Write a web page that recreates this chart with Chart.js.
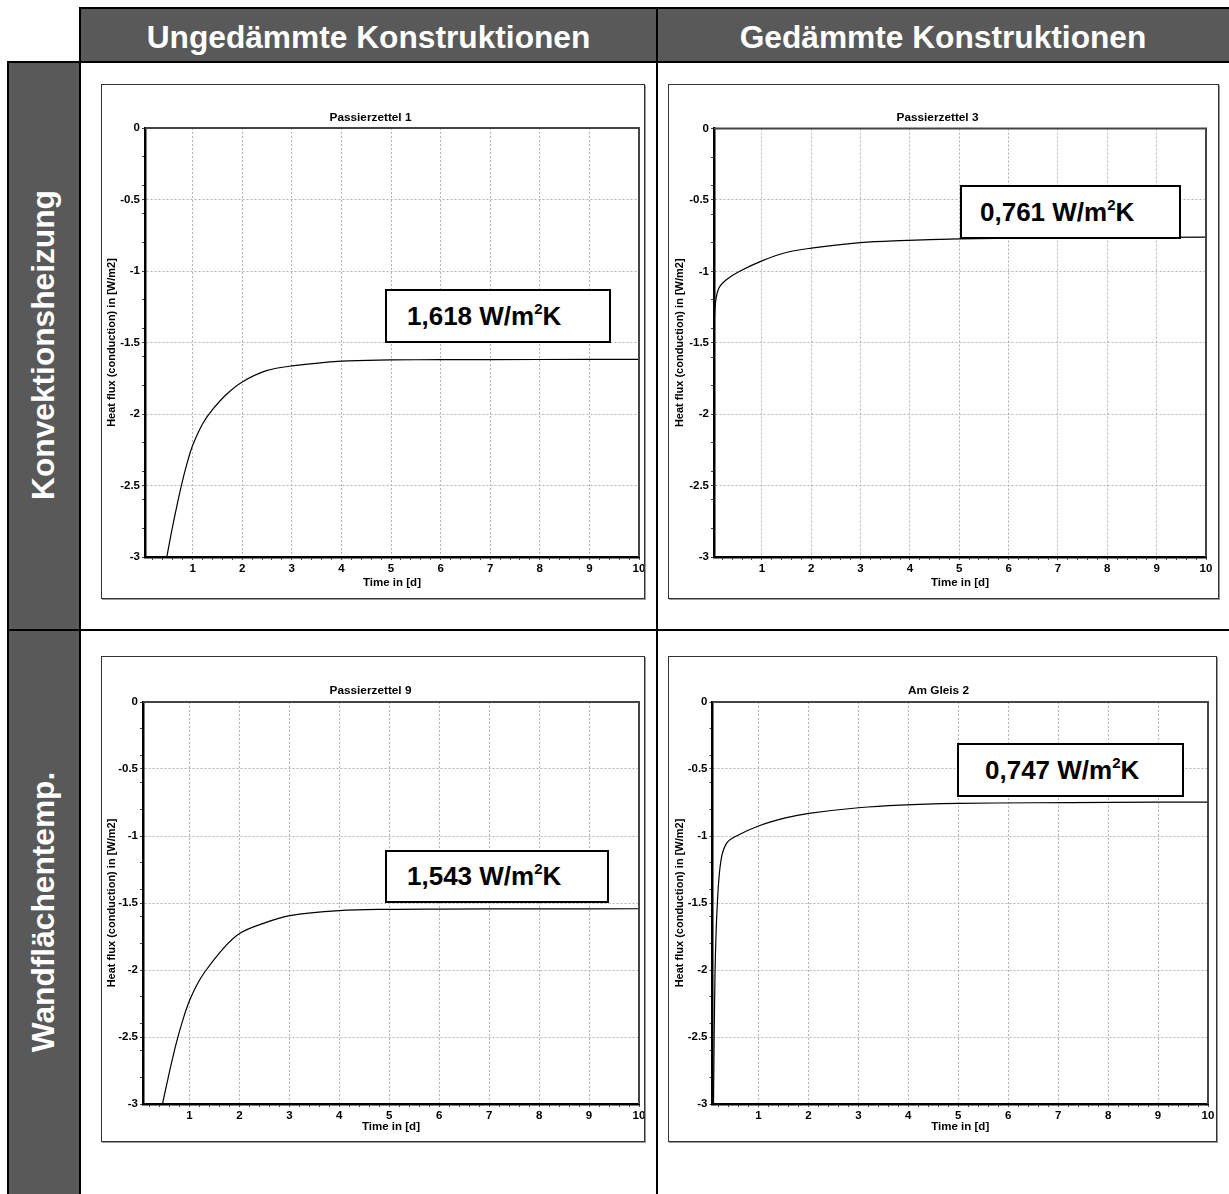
<!DOCTYPE html>
<html>
<head>
<meta charset="utf-8">
<script src="https://cdn.jsdelivr.net/npm/chart.js@4.4.1/dist/chart.umd.min.js"></script>
<style>
  html, body { margin: 0; padding: 0; background: #fff; }
  body { width: 1229px; height: 1194px; position: relative; overflow: hidden;
         font-family: "Liberation Sans", Arial, sans-serif; }
  .band { position: absolute; background: #595959; }
  .rule { position: absolute; background: #000; }
  .head { position: absolute; top: 8px; height: 54px; line-height: 58px; color: #fff;
          font-weight: bold; font-size: 31.7px; text-align: center; white-space: nowrap; }
  .side { position: absolute; color: #fff; font-weight: bold; font-size: 31.7px; white-space: nowrap;
          transform: translate(-50%, -50%) rotate(-90deg); }
  .panel { position: absolute; border: 1px solid #333; box-shadow: 1px 1px 0 #9a9a9a; background: #fff; }
  .panel canvas { position: absolute; left: 0; top: 0; }
  .value { position: absolute; border: 2px solid #000; background: #fff; font-weight: bold;
           font-size: 26px; box-sizing: border-box; white-space: nowrap; color: #000; }
  .value sup { font-size: 15px; vertical-align: baseline; position: relative; top: -11px; }
</style>
</head>
<body>
<div class="band" style="left:80px;top:8px;width:1149px;height:54px"></div>
<div class="band" style="left:8px;top:62px;width:72px;height:1132px"></div>
<div class="head" style="left:80px;width:577px">Ungedämmte Konstruktionen</div>
<div class="head" style="left:657px;width:572px">Gedämmte Konstruktionen</div>
<div class="side" style="left:43px;top:345px">Konvektionsheizung</div>
<div class="side" style="left:43px;top:912px">Wandflächentemp.</div>

<div class="rule" style="left:80px;top:7px;width:1149px;height:2px"></div>
<div class="rule" style="left:79px;top:7px;width:2px;height:1187px"></div>
<div class="rule" style="left:7px;top:61px;width:1222px;height:2px"></div>
<div class="rule" style="left:7px;top:61px;width:2px;height:1133px"></div>
<div class="rule" style="left:656px;top:7px;width:2px;height:1187px"></div>
<div class="rule" style="left:7px;top:629px;width:1222px;height:2px"></div>

<div id="panels"></div>

<script>
// Heat flux (conduction) in W/m2 over time in days, one series per construction
const timeP1 = [0.48, 0.6, 0.78, 0.9, 1.0, 1.2, 1.4, 1.69, 2.01, 2.49, 3.0, 4.0, 5.0, 6.0, 8.0, 10.0];
const fluxP1 = [-3.0, -2.78, -2.49, -2.33, -2.22, -2.07, -1.97, -1.86, -1.774, -1.697, -1.664, -1.630, -1.622, -1.620, -1.619, -1.618];

const timeP3 = [0.03, 0.06, 0.13, 0.28, 0.55, 1.0, 1.49, 2.0, 3.0, 3.8, 5.0, 6.5, 8.0, 10.0];
const fluxP3 = [-1.42, -1.22, -1.117, -1.059, -1.0, -0.927, -0.868, -0.838, -0.799, -0.785, -0.773, -0.767, -0.764, -0.761];

const timeP9 = [0.46, 0.6, 0.74, 0.87, 1.0, 1.15, 1.31, 1.68, 2.01, 2.48, 3.01, 4.0, 5.0, 6.0, 8.0, 10.0];
const fluxP9 = [-3.0, -2.76, -2.54, -2.37, -2.23, -2.11, -2.013, -1.838, -1.726, -1.652, -1.594, -1.557, -1.547, -1.545, -1.544, -1.543];

const timeG2 = [0.1, 0.13, 0.18, 0.25, 0.36, 0.53, 1.0, 1.56, 2.01, 3.0, 3.83, 5.0, 6.5, 8.0, 10.0];
const fluxG2 = [-3.0, -2.03, -1.48, -1.18, -1.055, -1.005, -0.925, -0.863, -0.831, -0.789, -0.769, -0.757, -0.752, -0.749, -0.747];

// Steady-state U-values (W/m2K) quoted in the boxes
const uValues = [1.618, 0.761, 1.543, 0.747];
const panelTitles = ['Passierzettel 1', 'Passierzettel 3', 'Passierzettel 9', 'Am Gleis 2'];

// Axis labelling
const xMajor = [1, 2, 3, 4, 5, 6, 7, 8, 9, 10];
const yMajor = [0, -0.5, -1, -1.5, -2, -2.5, -3];
const minorStep = 0.2;
const xTitle = 'Time in [d]';
const yTitle = 'Heat flux (conduction) in [W/m2]';

// Layout of the four chart boxes (page pixels)
const layouts = [
  { t: timeP1, v: fluxP1, xMin: 0.04, box: [101, 84, 544, 515],  plot: [145, 639, 128, 557],    titleY: 118, yTitleX: 112, xTitleY: 583,  note: [385, 289, 226, 54, 22] },
  { t: timeP3, v: fluxP3, xMin: 0.03, box: [668, 84, 551, 515],  plot: [714, 1206, 128.5, 557], titleY: 118, yTitleX: 680, xTitleY: 583,  note: [960, 185, 221, 54, 20] },
  { t: timeP9, v: fluxP9, xMin: 0.07, box: [101, 656, 544, 486], plot: [143, 639, 702, 1104],   titleY: 691, yTitleX: 112, xTitleY: 1127, note: [385, 850, 224, 53, 22] },
  { t: timeG2, v: fluxG2, xMin: 0.08, box: [668, 656, 549, 486], plot: [712.5, 1208, 702, 1104], titleY: 691, yTitleX: 680, xTitleY: 1127, note: [957, 743, 227, 54, 28] }
];

const FONT = '"Liberation Sans", Arial, sans-serif';
const near = (a, b) => Math.abs(a - b) < 1e-6;
const isMajor = (list, v) => list.some(m => near(m, v));

function stepTicks(lo, hi, step) {
  const out = [];
  for (let k = Math.ceil(lo / step - 1e-9); k * step <= hi + 1e-9; k++) out.push(+(k * step).toFixed(4));
  return out;
}
function mergeTicks(a, b) {
  const all = a.concat(b).sort((p, q) => p - q);
  return all.filter((v, i) => i === 0 || !near(v, all[i - 1])).map(v => ({ value: v }));
}
function fmt(v) { const r = Math.round(v * 10) / 10; return r === 0 ? '0' : String(r); }

// Dark frame on the top and right of the plot area
const framePlugin = {
  id: 'plotFrame',
  afterDatasetsDraw(chart) {
    const { ctx, chartArea: a } = chart;
    ctx.save();
    ctx.strokeStyle = '#444';
    ctx.lineWidth = 2;
    ctx.beginPath();
    ctx.moveTo(a.left, a.top);
    ctx.lineTo(a.right, a.top);
    ctx.lineTo(a.right, a.bottom);
    ctx.stroke();
    ctx.restore();
  }
};

const host = document.getElementById('panels');

layouts.forEach((p, i) => {
  const [bx, by, bw, bh] = p.box;
  const panel = document.createElement('div');
  panel.className = 'panel';
  panel.style.left = bx + 'px';
  panel.style.top = by + 'px';
  panel.style.width = (bw - 2) + 'px';
  panel.style.height = (bh - 2) + 'px';
  host.appendChild(panel);

  const cw = bw - 2, ch = bh - 2;
  const ox = bx + 1, oy = by + 1;
  const canvas = document.createElement('canvas');
  canvas.width = cw; canvas.height = ch;
  canvas.style.width = cw + 'px'; canvas.style.height = ch + 'px';
  panel.appendChild(canvas);

  const [pl, pr, pt, pb] = p.plot;
  const left = pl - ox, right = pr - ox, top = pt - oy, bottom = pb - oy;
  const titleCenter = p.titleY - oy;
  const titleFont = 11.8;

  const xTicks = mergeTicks(stepTicks(p.xMin, 10, minorStep), [p.xMin]);
  const yTicks = mergeTicks(stepTicks(-3, 0, minorStep), yMajor);

  new Chart(canvas, {
    type: 'line',
    data: {
      datasets: [{
        data: p.t.map((t, k) => ({ x: t, y: p.v[k] })),
        borderColor: '#000',
        borderWidth: 1.2,
        pointRadius: 0,
        fill: false,
        tension: 0.35
      }]
    },
    options: {
      responsive: false,
      animation: false,
      devicePixelRatio: 1,
      layout: { padding: { left: 0, top: 0, right: cw - right, bottom: 0 } },
      plugins: {
        legend: { display: false },
        tooltip: { enabled: false },
        title: {
          display: true,
          text: panelTitles[i],
          color: '#000',
          font: { family: FONT, size: titleFont, weight: 'bold', lineHeight: 1 },
          padding: { top: titleCenter - titleFont / 2, bottom: top - titleCenter - titleFont / 2 }
        }
      },
      scales: {
        x: {
          type: 'linear',
          min: p.xMin,
          max: 10,
          afterBuildTicks: s => { s.ticks = xTicks; },
          afterFit: s => { s.height = ch - bottom; s.paddingLeft = 0; s.paddingRight = 0; },
          ticks: {
            autoSkip: false,
            maxRotation: 0,
            padding: 2,
            color: '#000',
            font: { family: FONT, size: 11.5, weight: 'bold' },
            callback: v => isMajor(xMajor, v) ? fmt(v) : ''
          },
          grid: {
            color: c => (c.tick && isMajor(xMajor, c.tick.value) ? '#b4b4b4' : 'rgba(0,0,0,0)'),
            lineWidth: 1,
            tickColor: c => (c.tick && near(c.tick.value, p.xMin) ? 'rgba(0,0,0,0)' : '#444'),
            tickLength: 3
          },
          border: { display: true, color: '#000', width: 2.5, dash: [2, 2] },
          title: {
            display: true,
            text: xTitle,
            color: '#000',
            font: { family: FONT, size: 11.5, weight: 'bold', lineHeight: 1 },
            padding: { top: 0, bottom: (ch - (p.xTitleY - oy)) - 5.75 }
          }
        },
        y: {
          type: 'linear',
          min: -3,
          max: 0,
          afterBuildTicks: s => { s.ticks = yTicks; },
          afterFit: s => { s.width = left; s.paddingTop = 0; s.paddingBottom = 0; },
          ticks: {
            autoSkip: false,
            padding: 2,
            color: '#000',
            font: { family: FONT, size: 11.5, weight: 'bold' },
            callback: v => isMajor(yMajor, v) ? fmt(v) : ''
          },
          grid: {
            color: c => (c.tick && isMajor(yMajor, c.tick.value) ? '#b4b4b4' : 'rgba(0,0,0,0)'),
            lineWidth: 1,
            tickColor: '#444',
            tickLength: 3
          },
          border: { display: true, color: '#000', width: 2.5, dash: [2, 2] },
          title: {
            display: true,
            text: yTitle,
            color: '#000',
            font: { family: FONT, size: 11, weight: 'bold', lineHeight: 1 },
            padding: { top: (p.yTitleX - ox) - 5.5, bottom: 0 }
          }
        }
      }
    },
    plugins: [framePlugin]
  });

  // U-value box
  const [nx, ny, nw, nh, npad] = p.note;
  const note = document.createElement('div');
  note.className = 'value';
  note.style.left = nx + 'px';
  note.style.top = ny + 'px';
  note.style.width = nw + 'px';
  note.style.height = nh + 'px';
  note.style.lineHeight = (nh - 4) + 'px';
  note.style.paddingLeft = (npad - 2) + 'px';
  note.innerHTML = uValues[i].toFixed(3).replace('.', ',') + ' W/m<sup>2</sup>K';
  document.body.appendChild(note);
});
</script>
</body>
</html>
